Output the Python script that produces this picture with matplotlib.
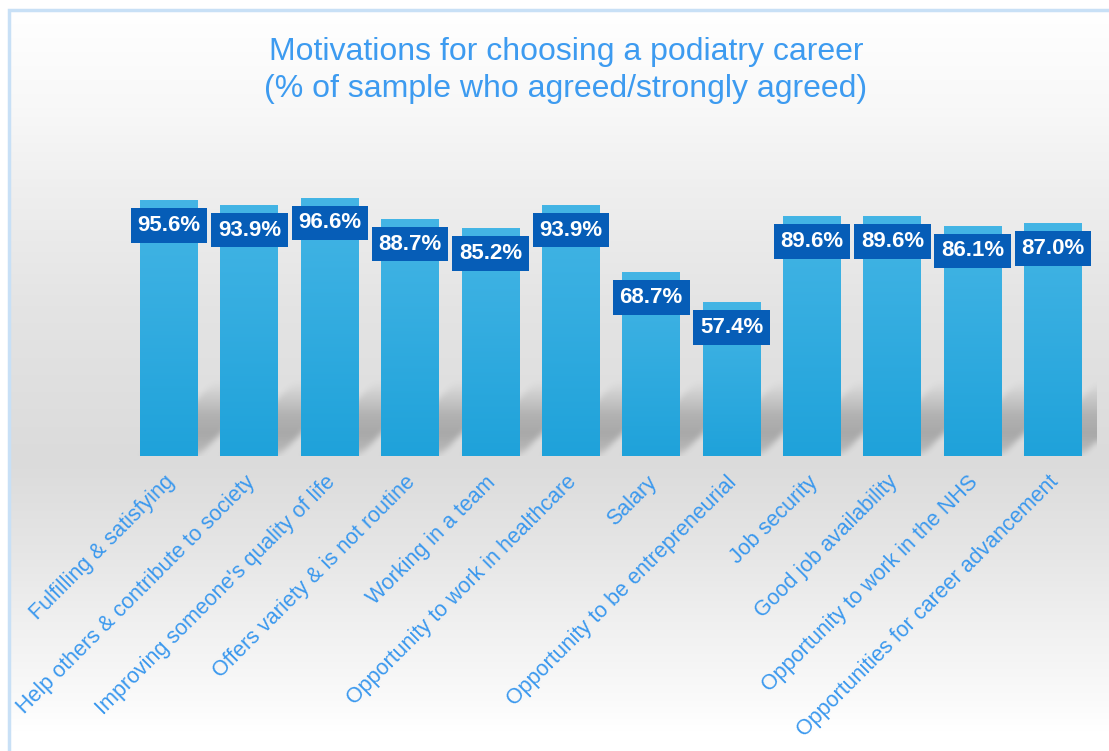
import numpy as np
import matplotlib
matplotlib.use("Agg")
import matplotlib.pyplot as plt
import matplotlib.transforms as mtransforms

plt.rcParams['font.family'] = ['Liberation Sans', 'DejaVu Sans']

# data
categories = [
    "Fulfilling & satisfying",
    "Help others & contribute to society",
    "Improving someone's quality of life",
    "Offers variety & is not routine",
    "Working in a team",
    "Opportunity to work in healthcare",
    "Salary",
    "Opportunity to be entrepreneurial",
    "Job security",
    "Good job availability",
    "Opportunity to work in the NHS",
    "Opportunities for career advancement",
]
values = [95.6, 93.9, 96.6, 88.7, 85.2, 93.9, 68.7, 57.4, 89.6, 89.6, 86.1, 87.0]
title_lines = ["Motivations for choosing a podiatry career",
               "(% of sample who agreed/strongly agreed)"]

W, H = 1109, 751
fig = plt.figure(figsize=(W / 100, H / 100), dpi=100)

# background gradient + light blue frame
bg = fig.add_axes([0, 0, 1, 1], zorder=-10)
bg.set_xlim(0, W)
bg.set_ylim(H, 0)
bg.axis('off')
stops_y = [0, 100, 180, 300, 457, 550, 620, 700, 730, 751]
stops_g = [255, 248, 239, 228, 219, 230, 240, 250, 255, 255]
ys = np.arange(H)
grey = np.interp(ys, stops_y, stops_g) / 255.0
grad = np.repeat(grey[:, None], 2, axis=1)
bg.imshow(np.dstack([grad, grad, grad]), extent=[8, W + 5, H, 9], aspect='auto',
          interpolation='bilinear', zorder=0)
bg.plot([8.5, 8.5, W + 5], [H + 5, 9.5, 9.5], color='#c8e0f6', lw=2.5, zorder=1,
        solid_joinstyle='miter')
bg.set_xlim(0, W)
bg.set_ylim(H, 0)

# title
cx = 566 / W
fig.text(cx, 1 - 60 / H, title_lines[0], ha='center', va='baseline',
         fontsize=23, color='#3d9bf0')
fig.text(cx, 1 - 97 / H, title_lines[1], ha='center', va='baseline',
         fontsize=23, color='#3d9bf0')

# main axes
xlo, xhi = -0.54, 11.54
step = 80.37
x0 = 169 + xlo * step
x1 = 169 + xhi * step
ybase, ytop = 455.7, 162.2
ax = fig.add_axes([x0 / W, (H - ybase) / H, (x1 - x0) / W, (ybase - ytop) / H])
ax.set_facecolor('none')
for s in ax.spines.values():
    s.set_visible(False)
ax.set_xticks([])
ax.set_yticks([])

x = np.arange(len(values))
bw = 0.72
bars = ax.bar(x, values, width=bw, color='#31abe0', zorder=3)

# soft cast shadow behind the bars (sheared 45 degrees up-right)
shear = 2.668 / step
nx, ny = 1400, 160
gx = np.linspace(xlo, xhi, nx)
gy = np.linspace(0, 40, ny)
GX, GY = np.meshgrid(gx, gy)
U = GX - shear * GY
prof = np.interp(GY, [0, 2.5, 8, 15, 28], [0.15, 0.7, 1.0, 0.85, 0.0])
inten = np.zeros_like(GX)
for i in x:
    inside = np.abs(U - i) <= bw / 2
    inten = np.maximum(inten, np.where(inside, prof, 0))


def box_blur(a, k, axis):
    pad = [(0, 0), (0, 0)]
    pad[axis] = (k, k)
    ap = np.pad(a, pad, mode='edge')
    c = np.cumsum(ap, axis=axis)
    c = np.insert(c, 0, 0, axis=axis)
    n = a.shape[axis]
    idx_hi = np.arange(n) + 2 * k + 1
    idx_lo = np.arange(n)
    return (np.take(c, idx_hi, axis=axis) - np.take(c, idx_lo, axis=axis)) / (2 * k + 1)


inten = box_blur(inten, 5, 1)
inten = box_blur(inten, 6, 0)
inten = box_blur(inten, 4, 1)
shadow = np.zeros((ny, nx, 4))
shadow[..., :3] = 0.3
shadow[..., 3] = 0.36 * inten
ax.imshow(shadow, extent=[xlo, xhi, 0, 40], origin='lower', aspect='auto',
          interpolation='bilinear', zorder=1)

# bar gradient
top_c = np.array([0x44, 0xb5, 0xe5]) / 255
bot_c = np.array([0x1f, 0xa2, 0xda]) / 255
t = np.linspace(0, 1, 100)[:, None]
gcol = bot_c[None, :] * (1 - t) + top_c[None, :] * t
gimg = gcol[:, None, :]
for b in bars:
    bx, bwid, bh = b.get_x(), b.get_width(), b.get_height()
    ax.imshow(gimg, extent=[bx, bx + bwid, 0, bh], origin='lower',
              aspect='auto', interpolation='bilinear', zorder=4)

# value labels
for xi, v in zip(x, values):
    ax.annotate(f"{v:.1f}%", xy=(xi, v), xytext=(0, -25),
                textcoords='offset pixels', ha='center', va='center',
                fontsize=16, fontweight='bold', color='white', zorder=6,
                bbox=dict(boxstyle='square,pad=0.3', fc='#065db7', ec='none'))

# category labels
lab_tr = mtransforms.offset_copy(ax.get_xaxis_transform(), fig=fig,
                                 x=-5, y=-16, units='dots')
for xi, c in zip(x, categories):
    ax.text(xi, 0, c, transform=lab_tr, rotation=45, rotation_mode='anchor',
            ha='right', va='top', fontsize=15.5, color='#3a98ee')

ax.set_xlim(xlo, xhi)
ax.set_ylim(0, 110)

fig.savefig("out.png", dpi=100)
